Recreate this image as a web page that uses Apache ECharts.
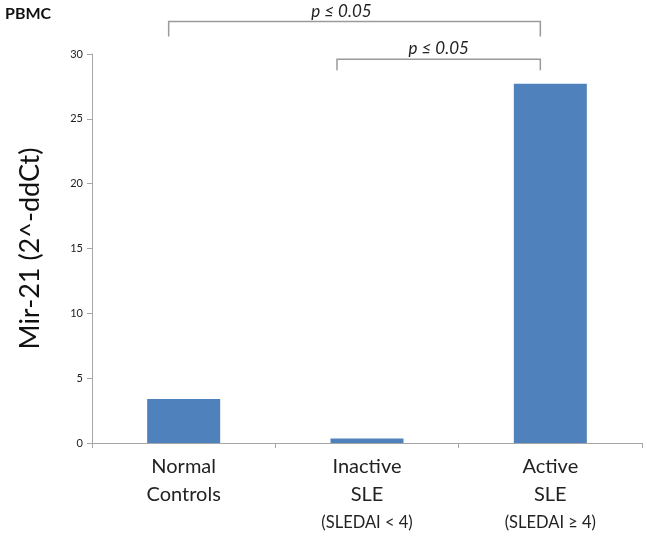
<!DOCTYPE html>
<html>
<head>
<meta charset="utf-8">
<script src="https://cdn.jsdelivr.net/npm/echarts@6/dist/echarts.min.js"></script>
<style>html,body{margin:0;padding:0;background:#fff}#c{width:647px;height:536px}</style>
</head>
<body>
<div id="c"></div>
<script>
const categories = ['Normal|Controls|', 'Inactive|SLE|(SLEDAI < 4)', 'Active|SLE|(SLEDAI ≥ 4)'];
const values = [3.4, 0.35, 27.7];
const yTicks = [0, 5, 10, 15, 20, 25, 30];
const brackets = [
  { from: 0, to: 2, label: 'p ≤ 0.05', level: 32.5, drop: 1.15, fromOff: -15, toOff: -10, textOff: -13 },
  { from: 1, to: 2, label: 'p ≤ 0.05', level: 29.6, drop: 0.85, fromOff: -30, toOff: -10, textOff: 0 }
];

const FONT = 'Lato, "Open Sans", sans-serif';
const chart = echarts.init(document.getElementById('c'));
chart.setOption({
  animation: false,
  backgroundColor: '#fff',
  grid: { left: 92, right: 5, top: 54, bottom: 93, containLabel: false },
  xAxis: {
    type: 'category',
    data: categories,
    axisLine: { lineStyle: { color: '#a6a6a6', width: 1 } },
    axisTick: { show: true, alignWithLabel: false, length: 5, lineStyle: { color: '#a6a6a6' } },
    axisLabel: {
      margin: 10,
      interval: 0,
      formatter: function (v) {
        const p = v.split('|');
        return '{m|' + p[0] + '}\n{m|' + p[1] + '}' + (p[2] ? '\n{s|' + p[2] + '}' : '');
      },
      rich: {
        m: { fontFamily: FONT, fontSize: 20, color: '#222', lineHeight: 28 },
        s: { fontFamily: FONT, fontSize: 16.5, color: '#222', lineHeight: 28 }
      }
    }
  },
  yAxis: {
    type: 'value',
    min: 0, max: 30, interval: 5,
    name: 'Mir-21 (2^-ddCt)',
    nameLocation: 'middle',
    nameGap: 48,
    nameRotate: 90,
    nameTextStyle: { fontFamily: FONT, fontSize: 27, color: '#111' },
    axisLine: { show: true, lineStyle: { color: '#a6a6a6', width: 1 } },
    axisTick: { show: true, length: 5, lineStyle: { color: '#a6a6a6' } },
    splitLine: { show: false },
    axisLabel: {
      margin: 9,
      fontFamily: FONT, fontSize: 11, color: '#222',
      formatter: function (v) { return yTicks.indexOf(v) >= 0 ? String(v) : ''; }
    }
  },
  series: [{
    type: 'bar',
    data: values,
    barWidth: 73,
    itemStyle: { color: '#4f81bd' }
  }]
});

const g = [{
  type: 'text', left: 5, top: 6,
  style: { text: 'PBMC', fontFamily: FONT, fontSize: 16, fontWeight: 'bold', fill: '#111' }
}];
brackets.forEach(function (b) {
  const p1 = chart.convertToPixel({ gridIndex: 0 }, [b.from, b.level]);
  const p2 = chart.convertToPixel({ gridIndex: 0 }, [b.to, b.level]);
  const pd = chart.convertToPixel({ gridIndex: 0 }, [b.to, b.level - b.drop]);
  const x1 = p1[0] + b.fromOff, x2 = p2[0] + b.toOff, y = p1[1], yd = pd[1];
  g.push({
    type: 'polyline',
    shape: { points: [[x1, yd], [x1, y], [x2, y], [x2, yd]] },
    style: { stroke: '#9a9a9a', lineWidth: 1.5, fill: null }
  });
  g.push({
    type: 'text', x: (x1 + x2) / 2 + b.textOff, y: y - 2,
    style: { text: b.label, fontFamily: FONT, fontSize: 17, fontStyle: 'italic', fill: '#222', align: 'center', verticalAlign: 'bottom' }
  });
});
chart.setOption({ graphic: g });
</script>
</body>
</html>
